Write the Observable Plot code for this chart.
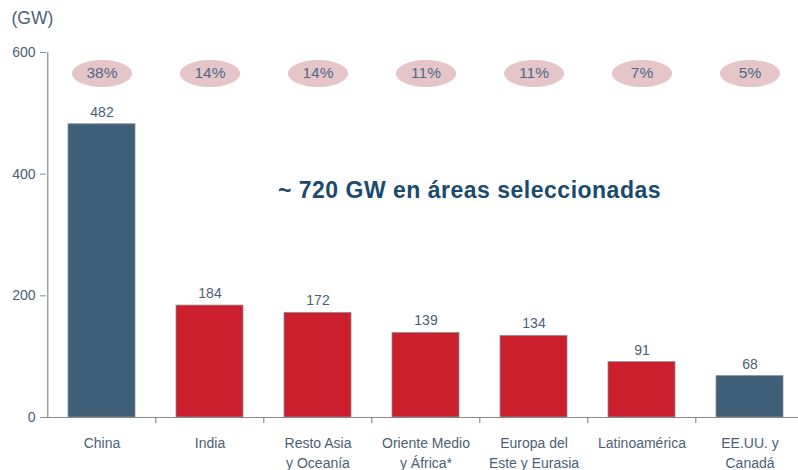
<!DOCTYPE html>
<html><head><meta charset="utf-8">
<script src="https://cdn.jsdelivr.net/npm/d3@7"></script>
<script src="https://cdn.jsdelivr.net/npm/@observablehq/plot@0.6"></script>
<style>body{margin:0;background:#fff;} svg{overflow:visible;} .note text{letter-spacing:0.5px;}</style>
</head><body><div id="chart"></div>
<script>
const regions = ["China","India","Resto Asia\ny Oceanía","Oriente Medio\ny África*","Europa del\nEste y Eurasia","Latinoamérica","EE.UU. y\nCanadá"];
const values = [482,184,172,139,134,91,68];
const shares = ["38%","14%","14%","11%","11%","7%","5%"];
const groups = ["A","B","B","B","B","B","A"];
const yTicks = [0,200,400,600];
const unitLabel = "(GW)";
const note = "~ 720 GW en áreas seleccionadas";

const data = regions.map((r,i)=>({region:r, value:values[i], share:shares[i], group:groups[i]}));
const X0 = 46, X1 = 805, bw = (X1-X0)/regions.length;
const font = "Liberation Sans, Arial, sans-serif";
const txt = "#4d6075";
const axisColor = "#8a8a8a";

const ellipse = {draw(ctx){const rx=30, ry=13.5, k=0.5523;
  ctx.moveTo(-rx,0);
  ctx.bezierCurveTo(-rx,-ry*k,-rx*k,-ry,0,-ry);
  ctx.bezierCurveTo(rx*k,-ry,rx,-ry*k,rx,0);
  ctx.bezierCurveTo(rx,ry*k,rx*k,ry,0,ry);
  ctx.bezierCurveTo(-rx*k,ry,-rx,ry*k,-rx,0);
  ctx.closePath();}};

const chart = Plot.plot({
  width: 798, height: 470,
  marginLeft: 46, marginRight: 0, marginTop: 52, marginBottom: 53,
  style: {fontFamily: font, background: "#fff", overflow: "visible"},
  x: {domain: regions, range: [X0, X1], paddingInner: 0.38, paddingOuter: 0.19, align: 0.5, label: null},
  y: {domain: [0,600], range: [417,52], label: null},
  color: {domain: ["A","B"], range: ["#3f5f78","#cc1f2e"]},
  marks: [
    Plot.barY(data, {x:"region", y:"value", fill:"group", stroke:"#8a8f94", strokeWidth:0.8}),
    Plot.ruleY([0], {stroke:axisColor, strokeWidth:1.2}),
    Plot.ruleX([regions[0]], {dx:-bw/2, y1:0, y2:600, stroke:axisColor, strokeWidth:1.2}),
    Plot.ruleX(regions.slice(1), {x:d=>d, dx:-bw/2, y1:0, y2:0, stroke:axisColor, strokeWidth:1.2, insetBottom:-6}),
    Plot.axisY({ticks: yTicks, tickSize: 6, tickPadding: 5, fontSize: 14, color: txt, stroke: axisColor, label: null}),
    Plot.axisX({tickSize: 0, tickPadding: 17, fontSize: 14, lineHeight: 1.38, color: txt, label: null}),
    Plot.text(data, {x:"region", y:"value", text:d=>String(d.value), dy:-12, fontSize:14, fill:txt}),
    Plot.dot(data, {x:"region", frameAnchor:"top", dy:21, symbol: ellipse, r:10, fill:"#e5c5c7", stroke:"none"}),
    Plot.text(data, {x:"region", frameAnchor:"top", dy:21, lineAnchor:"middle", text:"share", fontSize:15.5, fill:"#4c6a8c"}),
    Plot.text([note], {frameAnchor:"top", dx:47, dy:138, lineAnchor:"middle", fontSize:23, fontWeight:"bold", fill:"#1b4a6e", className:"note"}),
    Plot.text([unitLabel], {frameAnchor:"top-left", dx:-35, dy:-34, lineAnchor:"middle", textAnchor:"start", fontSize:17.5, fill:txt})
  ]
});
document.getElementById("chart").append(chart);
</script></body></html>
